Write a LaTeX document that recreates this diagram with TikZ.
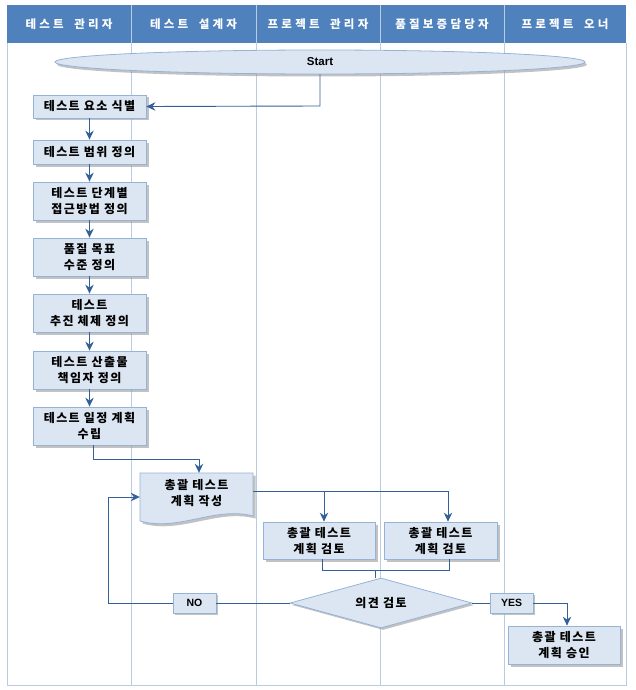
\documentclass[tikz,border=0pt]{standalone}
\usepackage{fontspec}
\setmainfont{Noto Sans CJK KR}
\newfontfamily\krbody{Noto Sans CJK KR}[LetterSpace=12]
\newfontfamily\krhead{Noto Sans CJK KR}[LetterSpace=28,WordSpace=1.8]
\newfontfamily\latf{Liberation Sans}
\usetikzlibrary{shapes.geometric,shadows,arrows.meta}
\definecolor{hdr}{HTML}{4F81BD}
\definecolor{lane}{HTML}{B8CCE4}
\definecolor{boxfill}{HTML}{DCE6F2}
\definecolor{boxline}{HTML}{95B3D7}
\definecolor{conn}{HTML}{34609A}
\begin{document}
\begin{tikzpicture}[x=1pt,y=-1pt,
  hdrtext/.style={text=white,font=\krhead\bfseries\fontsize{11.5}{13}\selectfont},
  procbox/.style={rectangle,draw=boxline,fill=boxfill,line width=0.8pt,
    minimum width=113pt,inner sep=1pt,align=center,
    font=\krbody\bfseries\fontsize{12}{16}\selectfont,
    drop shadow={shadow xshift=2.5pt,shadow yshift=-2.5pt,fill=black!40,opacity=0.6}},
  lbl/.style={rectangle,draw=boxline,fill=boxfill,line width=0.8pt,
    minimum width=43pt,minimum height=20pt,inner sep=1pt,
    font=\latf\bfseries\fontsize{10.5}{12}\selectfont,
    drop shadow={shadow xshift=2pt,shadow yshift=-2pt,fill=black!40,opacity=0.6}},
  conline/.style={draw=conn,line width=0.9pt},
  arr/.style={conline,-{Stealth[length=9pt,width=8.5pt,inset=3pt]}}
]
\useasboundingbox (0,0) rectangle (635,690);
% header and frame
\fill[hdr] (7,5) rectangle (626,43);
\draw[lane,line width=0.8pt] (7,43) -- (7,685) -- (626,685) -- (626,43);
\foreach \xx in {131,256,380,504}{\draw[lane,line width=0.8pt] (\xx,5) -- (\xx,685);}
\node[hdrtext] (h1) at (69,24) {테스트 관리자};
\node[hdrtext] (h2) at (193.5,24) {테스트 설계자};
\node[hdrtext] (h3) at (318,24) {프로젝트 관리자};
\node[hdrtext] (h4) at (442,24) {품질보증담당자};
\node[hdrtext] (h5) at (565,24) {프로젝트 오너};
% start
\node[ellipse,draw=boxline,fill=boxfill,line width=0.8pt,minimum width=530pt,minimum height=24pt,
  inner sep=0pt,font=\latf\bfseries\fontsize{11.5}{13}\selectfont,
  drop shadow={shadow xshift=2pt,shadow yshift=-2.5pt,fill=black!40,opacity=0.6}] (start) at (320,62) {Start};
% process boxes in lane 1
\node[procbox,minimum height=23pt] (b1) at (89.5,106.5) {테스트 요소 식별};
\node[procbox,minimum height=24pt] (b2) at (89.5,152) {테스트 범위 정의};
\node[procbox,minimum height=38pt] (b3) at (89.5,201) {테스트 단계별\\접근방법 정의};
\node[procbox,minimum height=38pt] (b4) at (89.5,257) {품질 목표\\수준 정의};
\node[procbox,minimum height=38pt] (b5) at (89.5,313) {테스트\\추진 체제 정의};
\node[procbox,minimum height=38pt] (b6) at (89.5,370) {테스트 산출물\\책임자 정의};
\node[procbox,minimum height=38pt] (b7) at (89.5,426) {테스트 일정 계획\\수립};
% document shape
\path[draw=boxline,fill=boxfill,line width=0.8pt,
  drop shadow={shadow xshift=2.5pt,shadow yshift=-2.5pt,fill=black!40,opacity=0.6}]
  (140,473) -- (253,473) -- (253,516) .. controls (215,506) and (178,532) .. (140,521) -- cycle;
\node[rectangle,minimum width=113pt,minimum height=40pt,inner sep=1pt,align=center,
  font=\krbody\bfseries\fontsize{12}{16}\selectfont] (doc) at (196.5,493) {총괄 테스트\\계획 작성};
% review boxes
\node[procbox,minimum width=112pt,minimum height=37pt] (r1) at (319,540.5) {총괄 테스트\\계획 검토};
\node[procbox,minimum width=113pt,minimum height=37pt] (r2) at (440.5,540.5) {총괄 테스트\\계획 검토};
% decision
\node[diamond,aspect=3.64,draw=boxline,fill=boxfill,line width=0.8pt,minimum width=182pt,minimum height=50pt,
  inner sep=0pt,font=\krbody\bfseries\fontsize{12}{14}\selectfont,
  drop shadow={shadow xshift=2pt,shadow yshift=-2pt,fill=black!40,opacity=0.6}] (dia) at (381,603) {의견 검토};
\node[lbl] (no) at (194.5,603) {NO};
\node[lbl] (yes) at (511.5,603) {YES};
\node[procbox,minimum width=112pt,minimum height=38pt] (appr) at (564,645) {총괄 테스트\\계획 승인};
% connectors
\coordinate (c1) at (320,106);
\draw[arr] (start.south -| c1) -- (c1) -- (b1.east);
\draw[arr] (b1) -- (b2);
\draw[arr] (b2) -- (b3);
\draw[arr] (b3) -- (b4);
\draw[arr] (b4) -- (b5);
\draw[arr] (b5) -- (b6);
\draw[arr] (b6) -- (b7);
\coordinate (c2) at (93,459);
\coordinate (c3) at (199,459);
\draw[arr] (b7.south -| c2) -- (c2) -- (c3) -- (c3 |- doc.north);
\coordinate (c4) at (324,491);
\coordinate (c5) at (448,491);
\draw[conline] (253,491) -- (c5);
\draw[arr] (c4) -- (c4 |- r1.north);
\draw[arr] (c5) -- (c5 |- r2.north);
\coordinate (c6) at (322,570);
\coordinate (c7) at (449,570);
\coordinate (c8) at (375,570);
\draw[conline] (c6 |- r1.south) -- (c6) -- (c7) -- (c7 |- r2.south);
\draw[conline] (c8) -- (c8 |- dia.north);
\draw[conline] (dia.west) -- (no.east);
\coordinate (c9) at (108,603);
\coordinate (c10) at (108,497);
\draw[arr] (no.west) -- (c9) -- (c10) -- (c10 -| doc.west);
\draw[conline] (dia.east) -- (yes.west);
\coordinate (c11) at (567,603);
\draw[arr] (yes.east) -- (c11) -- (c11 |- appr.north);
\end{tikzpicture}
\end{document}
